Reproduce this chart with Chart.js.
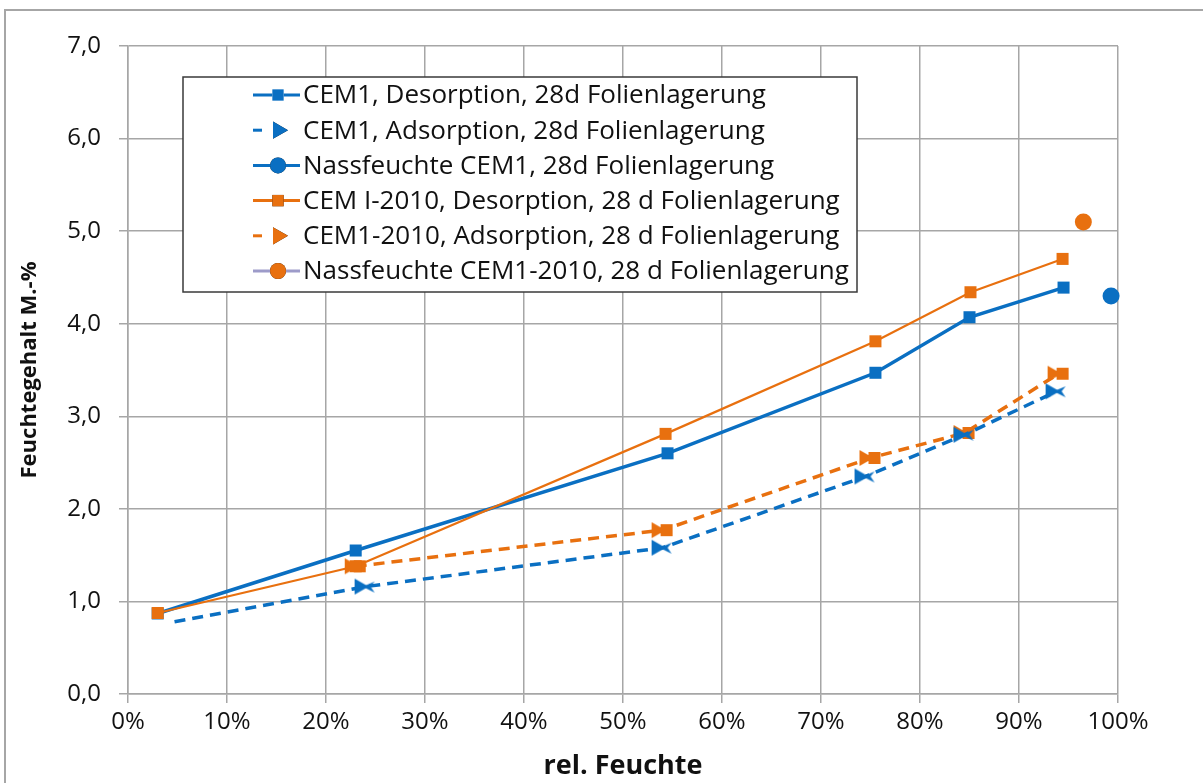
<!DOCTYPE html>
<html>
<head>
<meta charset="utf-8">
<script src="https://cdn.jsdelivr.net/npm/chart.js@4/dist/chart.umd.min.js"></script>
<style>
  body { margin: 0; background: #fff; }
  #wrap { width: 1203px; height: 783px; position: relative; }
</style>
</head>
<body>
<div id="wrap"><canvas id="c1" width="1203" height="783"></canvas></div>
<script>
/* data */

var seriesNames = [
  'CEM1, Desorption, 28d Folienlagerung',
  'CEM1, Adsorption, 28d Folienlagerung',
  'Nassfeuchte CEM1, 28d Folienlagerung',
  'CEM I-2010, Desorption, 28 d Folienlagerung',
  'CEM1-2010, Adsorption, 28 d Folienlagerung',
  'Nassfeuchte CEM1-2010, 28 d Folienlagerung'
];

var desCem1X = [3, 23, 54.5, 75.5, 85, 94.5];
var desCem1Y = [0.87, 1.55, 2.60, 3.47, 4.07, 4.39];

var adsCem1X = [4.7, 24, 54, 74.5, 84.5, 93.8];
var adsCem1Y = [0.78, 1.16, 1.58, 2.35, 2.80, 3.27];

var nassCem1X = [99.3];
var nassCem1Y = [4.30];

var des2010X = [3, 23, 54.3, 75.5, 85.1, 94.4];
var des2010Y = [0.875, 1.38, 2.81, 3.81, 4.34, 4.70];

var ads2010X = [23, 54, 75, 84.5, 94];
var ads2010Y = [1.38, 1.77, 2.55, 2.82, 3.46];

var nass2010X = [96.5];
var nass2010Y = [5.10];

var xTicks = [0, 10, 20, 30, 40, 50, 60, 70, 80, 90, 100];
var yTicks = [0, 1, 2, 3, 4, 5, 6, 7];

var blue = '#0a6fc2';
var orange = '#e8700f';
var fontName = "'Open Sans', 'DejaVu Sans', sans-serif";

function pts(xs, ys) {
  var out = [];
  for (var i = 0; i < xs.length; i++) out.push({ x: xs[i], y: ys[i] });
  return out;
}

/* arrow + square marker like the orange adsorption points */
function arrowMark(color, withSquare) {
  var cv = document.createElement('canvas');
  cv.width = 26; cv.height = 20;
  var g = cv.getContext('2d');
  g.fillStyle = color;
  g.beginPath();
  g.moveTo(2, 2); g.lineTo(16, 10); g.lineTo(2, 18); g.closePath();
  g.fill();
  if (withSquare) g.fillRect(11, 4, 12, 12);
  else {
    g.beginPath();
    g.moveTo(10, 10); g.lineTo(22, 5); g.lineTo(18, 10); g.lineTo(22, 16); g.closePath();
    g.fill();
  }
  return cv;
}

var datasets = [
  {
    label: seriesNames[0], data: pts(desCem1X, desCem1Y), order: 1,
    borderColor: blue, backgroundColor: blue, borderWidth: 3.5,
    pointStyle: 'rect', pointRadius: 8.5, pointBorderWidth: 0
  },
  {
    label: seriesNames[1], data: pts(adsCem1X, adsCem1Y), order: 2,
    borderColor: blue, backgroundColor: blue, borderWidth: 3.5, borderDash: [11, 7],
    pointStyle: arrowMark(blue, false), legendStyle: 'triangle',
    pointRadius: function (ctx) { return ctx.dataIndex === 0 ? 0 : 9; }, pointBorderWidth: 0
  },
  {
    label: seriesNames[2], data: pts(nassCem1X, nassCem1Y), order: 3,
    borderColor: blue, backgroundColor: blue, borderWidth: 3,
    pointStyle: 'circle', pointRadius: 8.5, pointBorderWidth: 0
  },
  {
    label: seriesNames[3], data: pts(des2010X, des2010Y), order: 0,
    borderColor: orange, backgroundColor: orange, borderWidth: 2.2,
    pointStyle: 'rect', pointRadius: 8.5, pointBorderWidth: 0
  },
  {
    label: seriesNames[4], data: pts(ads2010X, ads2010Y), order: 4,
    borderColor: orange, backgroundColor: orange, borderWidth: 3.5, borderDash: [11, 7],
    pointStyle: arrowMark(orange, true), legendStyle: 'triangle',
    pointRadius: 9, pointBorderWidth: 0
  },
  {
    label: seriesNames[5], data: pts(nass2010X, nass2010Y), order: 5,
    borderColor: '#9d9bc9', backgroundColor: orange, borderWidth: 3,
    pointStyle: 'circle', pointRadius: 8.5, pointBorderWidth: 0
  }
];

/* frame round the whole picture */
var framePlugin = {
  id: 'frame',
  beforeDraw: function (chart) {
    var c = chart.ctx;
    c.save();
    c.fillStyle = '#fff';
    c.fillRect(0, 0, chart.width, chart.height);
    c.strokeStyle = '#a6a6a6';
    c.lineWidth = 2;
    c.strokeRect(5, 10, 1210, 800);
    c.restore();
  }
};

/* legend box inside the plot */
var boxLegend = {
  id: 'boxLegend',
  afterDraw: function (chart) {
    var c = chart.ctx;
    var x0 = 183, y0 = 77, w = 674, h = 215;
    c.save();
    c.fillStyle = '#fff';
    c.fillRect(x0, y0, w, h);
    c.strokeStyle = '#3a3a3a';
    c.lineWidth = 1.5;
    c.strokeRect(x0, y0, w, h);
    c.font = '26px ' + fontName;
    c.textBaseline = 'middle';
    chart.data.datasets.forEach(function (ds, i) {
      var y = 95 + i * 35.2;
      c.strokeStyle = ds.borderColor;
      c.lineWidth = 3;
      c.setLineDash([]);
      c.beginPath();
      if (ds.borderDash) {
        c.moveTo(253, y); c.lineTo(262, y);
      } else {
        c.moveTo(253, y); c.lineTo(300, y);
      }
      c.stroke();
      var style = ds.legendStyle || ds.pointStyle;
      var r = style === 'triangle' ? 10 : 8;
      Chart.helpers.drawPoint(c, {
        pointStyle: style, radius: r, rotation: style === 'triangle' ? 90 : 0, borderWidth: 0
      }, 278, y);
      c.fillStyle = ds.backgroundColor;
      c.fill();
      c.fillStyle = '#111';
      c.fillText(ds.label, 303, y + 1);
    });
    c.restore();
  }
};

var gridColor = '#a6a6a6';

var ctx = document.getElementById('c1').getContext('2d');
var myChart = new Chart(ctx, {
  type: 'line',
  data: { datasets: datasets },
  plugins: [framePlugin, boxLegend],
  options: {
    responsive: false,
    animation: false,
    clip: false,
    layout: { padding: { top: 46, right: 85, left: 0, bottom: 0 } },
    plugins: { legend: { display: false }, tooltip: { enabled: false } },
    scales: {
      x: {
        type: 'linear', min: 0, max: 100,
        afterBuildTicks: function (s) { s.ticks = xTicks.map(function (v) { return { value: v }; }); },
        afterFit: function (s) { s.height = 89; },
        grid: { color: gridColor, lineWidth: 1.5, tickLength: 9 },
        border: { color: gridColor, width: 1.5 },
        ticks: {
          color: '#111', padding: 5, maxRotation: 0,
          font: { family: fontName, size: 24 },
          callback: function (v) { return v + '%'; }
        },
        title: {
          display: true, text: 'rel. Feuchte', color: '#111',
          font: { family: fontName, size: 27, weight: 'bold' },
          padding: { top: 0, bottom: 0 }
        }
      },
      y: {
        type: 'linear', min: 0, max: 7,
        afterBuildTicks: function (s) { s.ticks = yTicks.map(function (v) { return { value: v }; }); },
        afterFit: function (s) { s.width = 128; },
        grid: { color: gridColor, lineWidth: 1.5, tickLength: 9 },
        border: { color: gridColor, width: 1.5 },
        ticks: {
          color: '#111', padding: 18,
          font: { family: fontName, size: 24 },
          callback: function (v) { return v.toFixed(1).replace('.', ','); }
        },
        title: {
          display: true, text: 'Feuchtegehalt M.-%', color: '#111',
          font: { family: fontName, size: 22, weight: 'bold' },
          padding: { top: 17, bottom: 0 }
        }
      }
    }
  }
});
</script>
</body>
</html>
